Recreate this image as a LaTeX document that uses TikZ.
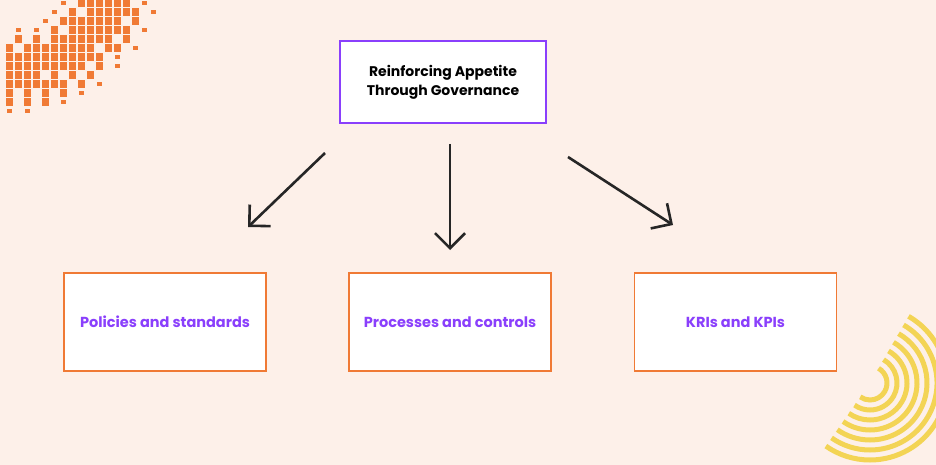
\documentclass[tikz,border=0pt]{standalone}
\usepackage{fontspec}
\setmainfont{Poppins}
\usetikzlibrary{arrows.meta}
\definecolor{bg}{HTML}{FDF0E9}
\definecolor{purp}{HTML}{8A3FFC}
\definecolor{org}{HTML}{F07A35}
\definecolor{yel}{HTML}{F3D454}
\begin{document}
\begin{tikzpicture}[x=1pt,y=-1pt,
  top/.style={draw=purp,line width=1.5pt,fill=white,minimum width=206pt,minimum height=82pt,align=center,font=\fontsize{14}{19}\selectfont\bfseries,text=black},
  box/.style={draw=org,line width=1.5pt,fill=white,minimum width=202pt,minimum height=98pt,font=\fontsize{14.5}{17}\selectfont\bfseries,text=purp},
  arr/.style={draw=black!85,line width=2.6pt,-{Straight Barb[length=15pt,width=30pt,line width=2.6pt]}}]
\fill[bg] (0,0) rectangle (936,465);
\useasboundingbox (0,0) rectangle (936,465);
% pixels
\def\px#1#2{\fill[org] ({9.3+9*#1-3.6},{3+9*#2-3.6}) rectangle +(7.2,7.2);}
\foreach \r/\cols in {0/{8,9,10,11,12,13},1/{7,9,10,11,12,13,14},2/{6,7,8,9,10,11,12,14},3/{5,7,8,9,10,11,12,13},4/{1,3,5,6,7,8,9,10,11,13},5/{0,2,3,4,5,6,7,8,9,11,12},6/{0,1,2,3,4,5,6,7,8,9,10},7/{0,1,2,3,4,5,6,7,8,10},8/{0,1,2,3,5,7,9},9/{0,1,2,3,4,5,6,8},10/{0,2,4,6},11/{0,2,4}}
  {\foreach \c in \cols {\px{\c}{\r}}}
\foreach \c/\r in {6/0,15/0,5/1,16/1,4/2,1/3,3/3,15/3,14/5,12/6,12/7,10/9,8/10,6/11,0/12,2/12}
  {\fill[org] ({9.3+9*\c-2.3},{3+9*\r-2.3}) rectangle +(4.6,4.6);}
% arcs
\begin{scope}
\clip (0,0) rectangle (936,465);
\foreach \rr in {17,27,37,47,57,67,77}
  \draw[yel,line width=5pt] (870,383) ++(-60:\rr) arc[start angle=-60,end angle=125,radius=\rr];
\end{scope}
\node[top] (t) at (443,82) {Reinforcing Appetite\\Through Governance};
\node[box] (a) at (165,322) {Policies and standards};
\node[box] (b) at (450,322) {Processes and controls};
\node[box] (c) at (735.5,322) {KRIs and KPIs};
\coordinate (s1) at (325,153); \coordinate (e1) at (248,227);
\coordinate (s2) at (450,144); \coordinate (e2) at (450,250);
\coordinate (s3) at (568,157); \coordinate (e3) at (673,225);
\draw[arr] (s1) -- (e1);
\draw[arr] (s2) -- (e2);
\draw[arr] (s3) -- (e3);
\end{tikzpicture}
\end{document}
